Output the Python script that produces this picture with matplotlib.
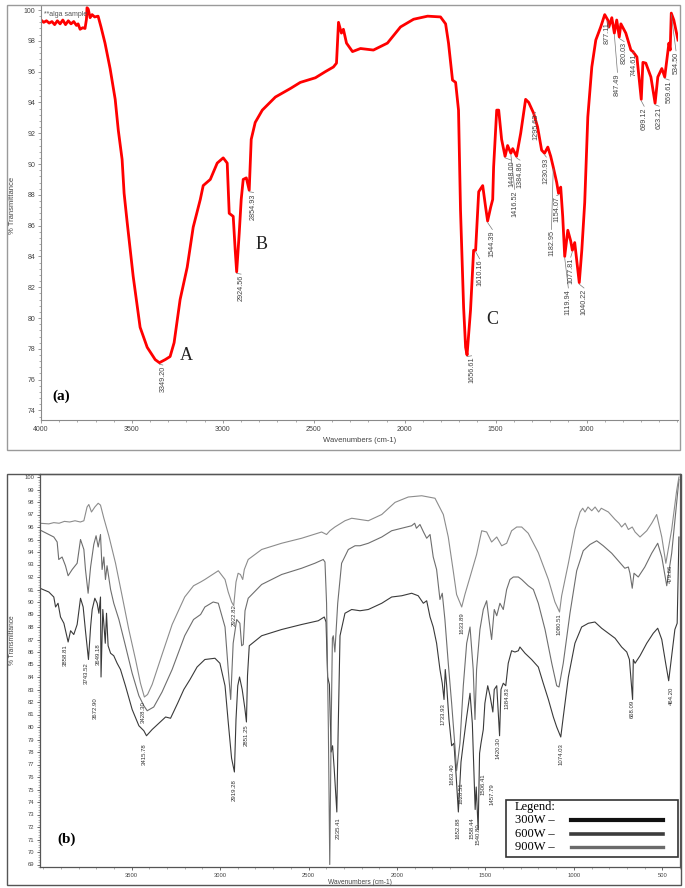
import numpy as np
import matplotlib
matplotlib.use("Agg")
import matplotlib.pyplot as plt
from matplotlib.patches import Rectangle
from matplotlib.ticker import MultipleLocator

plt.rcParams['font.family'] = ['Liberation Sans', 'DejaVu Sans']

# ---------------- panel (a): alga sample, red spectrum ----------------
a_wn = [4000, 3985, 3970, 3955, 3940, 3925, 3910, 3895, 3880, 3865, 3850, 3835, 3820, 3805, 3796,
        3785, 3770, 3758, 3750, 3747, 3740, 3730, 3719, 3705, 3686, 3670, 3648, 3620, 3592, 3575,
        3554, 3543, 3526, 3493, 3455, 3416, 3372, 3349, 3317, 3290, 3268, 3235, 3196, 3163, 3124,
        3108, 3069, 3031, 2998, 2976, 2965, 2943, 2932, 2924, 2910, 2899, 2888, 2871, 2855, 2844,
        2822, 2783, 2711, 2629, 2574, 2491, 2436, 2392, 2375, 2364, 2348, 2337, 2320, 2287, 2243,
        2172, 2095, 2023, 1951, 1874, 1803, 1775, 1759, 1737, 1720, 1704, 1693, 1676, 1665, 1657,
        1638, 1621, 1610, 1593, 1571, 1555, 1544, 1527, 1516, 1511, 1494, 1483, 1467, 1448, 1434,
        1416, 1406, 1385, 1362, 1335, 1318, 1291, 1269, 1247, 1231, 1213, 1197, 1183, 1164, 1154,
        1142, 1131, 1120, 1103, 1087, 1078, 1065, 1040, 1026, 1010, 993, 971, 949, 922, 900,
        883, 877, 861, 847, 834, 820, 811, 784, 756, 745, 723, 699, 690, 674, 646,
        623, 608, 586, 570, 547, 540, 534, 520, 497]
a_T = [99.35, 99.2, 99.3, 99.15, 99.25, 99.05, 99.3, 99.1, 99.35, 99.05, 99.3, 99.1, 99.25, 99.0, 99.1,
       98.75, 98.85, 98.8, 99.4, 100.15, 100.05, 99.5, 99.7, 99.55, 99.6, 98.9, 97.85, 96.2, 94.2, 92.2,
       90.3, 88.1, 86.2, 82.7, 79.4, 78.1, 77.3, 77.1, 77.3, 77.5, 78.4, 81.2, 83.3, 85.9, 87.7,
       88.6, 89.0, 90.06, 90.4, 90.06, 86.8, 86.6, 84.4, 83.0, 85.5, 87.7, 89.0, 89.1, 88.3, 91.6,
       92.7, 93.5, 94.35, 94.9, 95.3, 95.6, 96.0, 96.3, 96.55, 99.2, 98.5, 98.75, 97.85, 97.3, 97.5,
       97.4, 97.85, 98.9, 99.4, 99.6, 99.55, 99.1, 97.85, 95.45, 95.3, 93.5, 87.0, 80.7, 78.1, 77.6,
       80.5, 84.4, 84.4, 88.2, 88.6, 87.2, 86.3, 87.2, 87.7, 89.8, 93.5, 93.5, 91.6, 90.5, 91.2,
       90.7, 91.0, 90.5, 92.0, 94.2, 94.0, 93.3, 92.4, 90.9, 90.7, 91.1, 90.5, 89.8, 88.8, 88.1,
       88.5, 86.6, 84.0, 85.7, 85.0, 84.4, 84.9, 82.3, 84.4, 87.5, 93.05, 96.3, 98.05, 98.9, 99.7,
       99.35, 98.9, 99.5, 98.5, 99.35, 98.25, 99.1, 98.5, 97.4, 97.3, 96.95, 94.2, 96.6, 96.55, 95.65,
       93.95, 95.65, 96.2, 95.65, 97.85, 97.4, 99.8, 99.35, 98.05]

# peak labels of (a): text, peak wavenumber, text x, text top
a_labels = [("3349.20", 3349, 3330, 76.9), ("2924.56", 2924, 2900, 82.8), ("2854.93", 2855, 2831, 88.1),
            ("1656.61", 1657, 1632, 77.5), ("1610.16", 1610, 1588, 83.8), ("1544.39", 1544, 1518, 85.7),
            ("1448.00", 1448, 1413, 90.2), ("1416.52", 1416, 1395, 88.3), ("1384.86", 1385, 1366, 90.2),
            ("1295.63", 1291, 1280, 93.3), ("1230.93", 1231, 1221, 90.4), ("1154.07", 1154, 1164, 87.9),
            ("1182.95", 1183, 1193, 85.7), ("1119.94", 1120, 1100, 81.9), ("1077.81", 1078, 1087, 83.9),
            ("1040.22", 1040, 1014, 81.9), ("877.11", 877, 885, 99.2), ("847.49", 847, 830, 95.9),
            ("820.03", 820, 793, 97.9), ("744.61", 745, 738, 97.2), ("699.12", 699, 683, 93.7),
            ("623.21", 623, 601, 93.7), ("569.61", 570, 545, 95.4), ("534.50", 534, 508, 97.3)]

# ---------------- panel (b): 300W / 600W / 900W ----------------
top_wn = [4018, 3968, 3940, 3910, 3880, 3850, 3820, 3790, 3770, 3752, 3742, 3727, 3708, 3689, 3676,
          3657, 3629, 3591, 3554, 3516, 3478, 3450, 3428, 3410, 3384, 3328, 3271, 3200, 3150, 3110,
          3086, 3010, 2972, 2954, 2935, 2923, 2910, 2898, 2885, 2872, 2863, 2841, 2765, 2652, 2539,
          2426, 2398, 2379, 2351, 2294, 2256, 2209, 2162, 2086, 2011, 1936, 1860, 1785, 1738, 1710,
          1682, 1663, 1634, 1616, 1587, 1550, 1521, 1493, 1465, 1436, 1408, 1380, 1352, 1323, 1295,
          1258, 1201, 1144, 1107, 1081, 1069, 1031, 994, 965, 950, 937, 920, 899, 880, 860,
          845, 805, 767, 745, 730, 710, 692, 670, 654, 626, 588, 560, 532, 503, 480,
          447, 419, 406]
top_T = [96.3, 96.25, 96.35, 96.3, 96.45, 96.4, 96.5, 96.4, 96.5, 97.6, 97.8, 97.2, 97.6, 97.9, 97.75,
         96.7, 95.3, 93.1, 90.5, 87.8, 85.4, 83.5, 82.4, 82.6, 83.4, 85.8, 88.2, 90.4, 91.3, 91.6,
         91.8, 92.5, 91.8, 90.8, 90.0, 89.7, 91.6, 92.3, 92.2, 91.8, 92.6, 93.4, 94.2, 94.7, 95.1,
         95.6, 95.4, 95.7, 96.0, 96.5, 96.7, 96.6, 96.5, 97.0, 97.97, 98.4, 98.5, 98.3, 97.0, 95.2,
         92.5, 90.6, 89.6, 90.6, 92.0, 93.8, 95.7, 95.6, 94.8, 95.2, 94.5, 94.7, 95.7, 96.0, 96.0,
         95.5, 93.95, 91.8, 90.0, 89.2, 90.5, 93.1, 95.8, 97.2, 97.5, 97.2, 97.6, 97.3, 97.6, 97.2,
         97.5, 97.2, 96.6, 96.3, 96.0, 96.3, 95.8, 96.0, 95.6, 95.2, 95.7, 96.3, 97.0, 95.2, 93.1,
         95.8, 98.9, 100.0]

mid_wn = [4018, 3968, 3940, 3921, 3912, 3893, 3874, 3859, 3836, 3808, 3789, 3770, 3761, 3746, 3732,
          3714, 3701, 3689, 3676, 3667, 3657, 3648, 3639, 3619, 3601, 3572, 3535, 3497, 3459, 3431,
          3412, 3375, 3328, 3271, 3200, 3150, 3110, 3086, 3039, 3010, 2972, 2954, 2940, 2926, 2906,
          2888, 2878, 2869, 2859, 2841, 2765, 2652, 2539, 2464, 2417, 2407, 2398, 2388, 2380, 2372,
          2365, 2360, 2351, 2335, 2313, 2275, 2237, 2209, 2162, 2086, 2030, 1973, 1917, 1900, 1890,
          1870, 1850, 1832, 1813, 1795, 1776, 1757, 1744, 1729, 1710, 1691, 1672, 1663, 1644, 1625,
          1606, 1587, 1569, 1559, 1550, 1531, 1512, 1493, 1480, 1465, 1450, 1436, 1418, 1399, 1380,
          1361, 1342, 1314, 1295, 1258, 1229, 1201, 1163, 1125, 1097, 1084, 1060, 1022, 984, 947,
          909, 871, 834, 786, 749, 712, 692, 683, 670, 660, 636, 599, 560, 526, 503,
          475, 447, 419, 406]
mid_T = [95.76, 95.4, 95.2, 94.8, 93.4, 93.6, 92.9, 92.1, 92.6, 93.1, 95.0, 94.2, 92.6, 90.7, 92.8,
         94.6, 95.3, 94.4, 95.4, 92.6, 93.6, 91.8, 92.9, 91.0, 89.9, 88.6, 86.5, 84.3, 82.5, 81.7,
         81.3, 81.6, 82.8, 84.6, 87.3, 88.6, 89.0, 89.6, 90.0, 89.9, 88.0, 84.6, 82.2, 86.7, 88.6,
         88.3, 86.5, 86.6, 89.3, 90.3, 91.4, 92.2, 92.7, 93.1, 93.4, 93.2, 89.9, 80.0, 69.0, 80.0,
         87.1, 87.3, 86.0, 89.9, 93.1, 94.2, 94.5, 94.5, 94.7, 95.2, 95.7, 95.9, 96.1, 96.3, 95.9,
         96.2, 95.6, 95.1, 95.4, 93.6, 92.6, 90.2, 90.7, 88.6, 85.1, 81.9, 78.4, 76.5, 78.7, 83.3,
         86.7, 88.0, 84.6, 80.6, 84.6, 87.8, 89.4, 90.1, 88.6, 87.0, 89.4, 88.9, 89.9, 89.4, 91.0,
         91.8, 92.0, 92.0, 91.8, 91.3, 91.0, 89.9, 87.8, 85.1, 83.3, 83.2, 85.1, 89.1, 92.5, 94.1,
         94.6, 94.9, 94.5, 93.9, 93.3, 92.7, 92.8, 92.3, 91.1, 92.3, 92.0, 92.8, 93.9, 94.7, 93.6,
         91.3, 93.9, 97.9, 99.8]

bot_wn = [4018, 3968, 3940, 3930, 3916, 3902, 3883, 3859, 3845, 3827, 3808, 3789, 3774, 3761, 3744,
          3732, 3723, 3708, 3695, 3685, 3676, 3673, 3663, 3649, 3642, 3633, 3619, 3601, 3582, 3563,
          3535, 3497, 3459, 3431, 3416, 3384, 3346, 3308, 3280, 3240, 3205, 3170, 3130, 3086, 3029,
          3001, 2972, 2954, 2935, 2919, 2910, 2900, 2890, 2875, 2860, 2851, 2845, 2835, 2765, 2652,
          2539, 2445, 2411, 2401, 2392, 2382, 2372, 2364, 2355, 2340, 2333, 2322, 2294, 2256, 2209,
          2162, 2086, 2030, 1973, 1917, 1880, 1851, 1832, 1813, 1795, 1776, 1757, 1744, 1734, 1727,
          1719, 1706, 1691, 1678, 1665, 1653, 1638, 1625, 1606, 1587, 1574, 1558, 1552, 1541, 1533,
          1525, 1512, 1503, 1487, 1474, 1458, 1450, 1436, 1420, 1412, 1399, 1385, 1371, 1352, 1333,
          1314, 1305, 1276, 1239, 1201, 1173, 1144, 1116, 1097, 1074, 1060, 1031, 994, 956, 918,
          881, 843, 805, 767, 730, 701, 686, 668, 664, 654, 626, 588, 551, 526, 503,
          481, 464, 447, 429, 416, 406]
bot_T = [91.1, 90.8, 90.4, 89.6, 89.9, 88.8, 88.3, 86.8, 87.7, 87.4, 88.2, 90.3, 89.6, 87.7, 85.4,
         88.0, 89.4, 90.3, 89.9, 89.1, 90.4, 84.0, 89.4, 86.7, 89.1, 86.5, 85.9, 85.7, 85.1, 84.6,
         83.3, 81.4, 80.1, 79.7, 79.3, 79.8, 80.3, 80.8, 80.7, 81.9, 83.0, 83.8, 84.8, 85.4, 85.5,
         85.1, 83.3, 80.4, 77.5, 76.4, 80.6, 83.3, 84.0, 83.0, 81.5, 80.4, 84.1, 86.5, 87.3, 87.8,
         88.2, 88.5, 88.8, 88.4, 84.0, 83.4, 78.0, 78.5, 76.7, 73.2, 79.3, 87.3, 89.1, 89.4, 89.3,
         89.4, 89.9, 90.4, 90.5, 90.7, 90.5, 89.9, 90.1, 88.8, 88.0, 86.7, 84.6, 83.5, 82.2, 84.6,
         83.3, 80.6, 78.5, 78.7, 76.0, 73.2, 77.2, 78.7, 80.8, 82.7, 80.3, 73.4, 75.2, 71.8, 77.9,
         78.7, 79.8, 81.9, 83.3, 82.5, 81.2, 83.0, 83.3, 79.3, 83.0, 83.5, 83.3, 85.1, 86.1, 86.0,
         86.1, 86.4, 85.9, 85.4, 84.8, 83.5, 82.2, 80.8, 80.0, 79.2, 80.8, 84.0, 86.7, 88.0, 88.3,
         88.4, 87.9, 87.5, 87.1, 86.4, 86.0, 85.4, 82.2, 85.4, 85.1, 85.7, 86.7, 87.5, 87.9, 87.0,
         85.1, 83.7, 85.7, 87.8, 88.3, 95.2]

# peak labels of (b): text, x, top
b_labels = [("3858.81", 3877, 86.6), ("3743.52", 3754, 85.2), ("3672.90", 3707, 82.4), ("3649.18", 3689, 86.7),
            ("3428.30", 3434, 82.1), ("3415.78", 3429, 78.7), ("2922.82", 2920, 89.8), ("2919.28", 2920, 75.8),
            ("2851.25", 2850, 80.2), ("2335.41", 2334, 72.8), ("1633.89", 1631, 89.2), ("1733.93", 1738, 81.9),
            ("1663.40", 1691, 77.1), ("1628.51", 1638, 75.6), ("1652.88", 1657, 72.8), ("1558.44", 1574, 72.8),
            ("1540.80", 1544, 72.3), ("1506.41", 1512, 76.3), ("1457.79", 1465, 75.5), ("1420.30", 1427, 79.2),
            ("1384.83", 1380, 83.2), ("1080.51", 1082, 89.1), ("1074.03", 1074, 78.7), ("668.09", 670, 82.2),
            ("464.20", 447, 83.2), ("479.66", 457, 93.0)]

legend_names = ["300W", "600W", "900W"]

W, H = 685, 888
fig = plt.figure(figsize=(W / 100, H / 100), dpi=100)

# outer frames
fig.patches.append(Rectangle((7 / W, 1 - 450 / H), 673 / W, 445 / H, transform=fig.transFigure,
                             fill=False, edgecolor='#9a9a9a', lw=1.0))
fig.patches.append(Rectangle((7 / W, 1 - 885 / H), 674 / W, 411 / H, transform=fig.transFigure,
                             fill=False, edgecolor='#555555', lw=1.0))

# ---- (a)
ax1 = fig.add_axes([41 / W, 1 - 420 / H, 637 / W, 414 / H])
ax1.plot(a_wn, a_T, color='#ff0000', lw=2.0, solid_joinstyle='round')
ax1.set_xlim(4000, 497)
ax1.set_ylim(73.38, 100.26)
ax1.set_xticks([4000, 3500, 3000, 2500, 2000, 1500, 1000])
ax1.xaxis.set_minor_locator(MultipleLocator(100))
ax1.set_yticks(np.arange(74, 101, 2))
ax1.yaxis.set_minor_locator(MultipleLocator(0.4))
for s in ['top', 'right']:
    ax1.spines[s].set_visible(False)
for s in ['left', 'bottom']:
    ax1.spines[s].set_color('#8a8a8a')
    ax1.spines[s].set_linewidth(0.8)
ax1.tick_params(which='major', labelsize=5, colors='#8a8a8a', labelcolor='#444444', length=2.5, width=0.6, pad=1.5)
ax1.tick_params(which='minor', colors='#8a8a8a', length=1.5, width=0.5)
ax1.set_xlabel("Wavenumbers (cm-1)", fontsize=5.5, color='#444444', labelpad=3)
fig.text(12 / W, 1 - 205 / H, "% Transmittance", rotation=90, fontsize=5.5, color='#444444',
         ha='center', va='center')
ax1.text(3985, 99.7, "**alga sample", fontsize=5, color='#555555', va='center', ha='left')

for lab, pk, xt, yt in a_labels:
    tp = np.interp(pk, a_wn[::-1], a_T[::-1])
    ax1.plot([pk, xt], [tp - 0.1, yt + 0.05], color='#777777', lw=0.5)
    ax1.text(xt, yt, lab, rotation=90, fontsize=5.2, color='#444444', ha='center', va='top')

ax1.text(3200, 77.6, "A", fontsize=13, family=['Liberation Serif'], color='#222222', ha='center', va='center')
ax1.text(2790, 84.8, "B", fontsize=13, family=['Liberation Serif'], color='#222222', ha='center', va='center')
ax1.text(1519, 79.9, "C", fontsize=13, family=['Liberation Serif'], color='#222222', ha='center', va='center')
ax1.text(3890, 74.9, "(a)", fontsize=11, family=['Liberation Serif'], fontweight='bold', ha='center', va='center')

# ---- (b)
ax2 = fig.add_axes([40 / W, 1 - 867 / H, 640 / W, 393 / H])
ax2.plot(bot_wn, bot_T, color='#3a3a3a', lw=0.8)
ax2.plot(mid_wn, mid_T, color='#6e6e6e', lw=0.8)
ax2.plot(top_wn, top_T, color='#8c8c8c', lw=0.8)
ax2.set_xlim(4018, 400)
ax2.set_ylim(68.8, 100.24)
ax2.set_xticks([3500, 3000, 2500, 2000, 1500, 1000, 500])
ax2.xaxis.set_minor_locator(MultipleLocator(100))
ax2.set_yticks(np.arange(69, 101, 1))
ax2.yaxis.set_minor_locator(MultipleLocator(0.2))
for s in ax2.spines.values():
    s.set_color('#555555')
    s.set_linewidth(0.9)
ax2.tick_params(which='major', labelsize=4.2, colors='#555555', labelcolor='#444444', length=2.5, width=0.6, pad=1.5)
ax2.tick_params(which='minor', colors='#777777', length=1.3, width=0.4)
ax2.set_xlabel("Wavenumbers (cm-1)", fontsize=4.8, color='#444444', labelpad=1)
fig.text(12 / W, 1 - 640 / H, "% Transmittance", rotation=90, fontsize=4.8, color='#444444',
         ha='center', va='center')

for lab, xt, yt in b_labels:
    ax2.text(xt, yt, lab, rotation=90, fontsize=4.3, color='#333333', ha='center', va='top')

ax2.text(3870, 71.0, "(b)", fontsize=11, family=['Liberation Serif'], fontweight='bold', ha='center', va='center')

# legend box
lx0, ly0 = 506 / W, 1 - 857 / H
fig.patches.append(Rectangle((lx0, ly0), 172 / W, 57 / H, transform=fig.transFigure,
                             facecolor='white', edgecolor='#333333', lw=1.2, zorder=5))
fig.text(515 / W, 1 - 807 / H, "Legend:", fontsize=9, family=['Liberation Serif'], va='center', zorder=6)
leg_cols = ['#111111', '#3c3c3c', '#6a6a6a']
leg_lws = [3.0, 2.6, 2.4]
for i, name in enumerate(legend_names):
    yy = 1 - (820 + 13.5 * i) / H
    fig.text(515 / W, yy, name + " \u2013", fontsize=9, family=['Liberation Serif'], va='center', zorder=6)
    fig.add_artist(plt.Line2D([571 / W, 663 / W], [yy, yy], transform=fig.transFigure,
                              color=leg_cols[i], lw=leg_lws[i], zorder=6))

fig.savefig("out.png", dpi=100)
